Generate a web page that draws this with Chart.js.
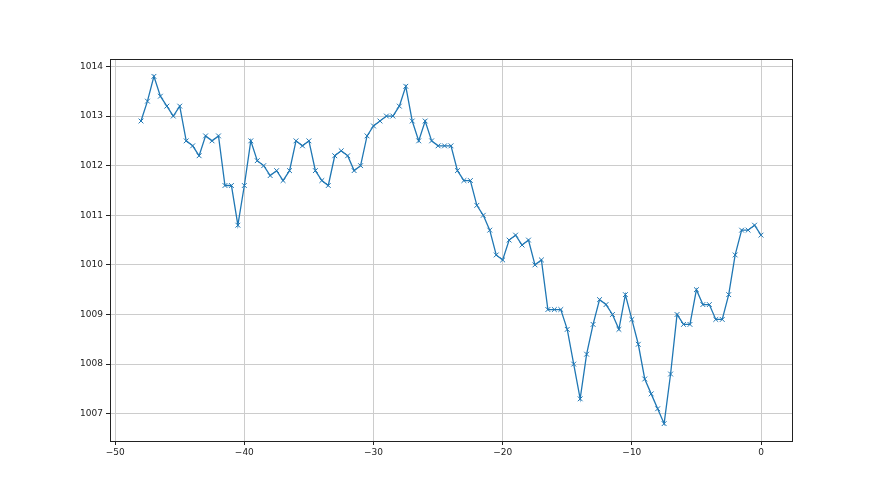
<!DOCTYPE html>
<html>
<head>
<meta charset="utf-8">
<script src="https://cdn.jsdelivr.net/npm/chart.js@4"></script>
<style>
  html, body { margin: 0; padding: 0; background: #fff; }
  #wrap { width: 880px; height: 495px; }
</style>
</head>
<body>
<div id="wrap"><canvas id="chart" width="880" height="495"></canvas></div>
<script>
// 시간 (-48 ~ 0, 30분 간격)
const hours = [];
for (let h = -48; h <= 0; h += 0.5) hours.push(h);

// 기압 값 (hPa)
const pressure = [
  1012.9, 1013.3, 1013.8, 1013.4, 1013.2, 1013.0, 1013.2, 1012.5, 1012.4, 1012.2,
  1012.6, 1012.5, 1012.6, 1011.6, 1011.6, 1010.8, 1011.6,
  1012.5, 1012.1, 1012.0, 1011.8, 1011.9, 1011.7, 1011.9, 1012.5, 1012.4, 1012.5,
  1011.9, 1011.7, 1011.6, 1012.2, 1012.3, 1012.2, 1011.9, 1012.0, 1012.6, 1012.8,
  1012.9, 1013.0, 1013.0, 1013.2, 1013.6, 1012.9, 1012.5, 1012.9, 1012.5, 1012.4,
  1012.4, 1012.4, 1011.9, 1011.7, 1011.7, 1011.2, 1011.0, 1010.7, 1010.2, 1010.1,
  1010.5, 1010.6, 1010.4, 1010.5, 1010.0, 1010.1, 1009.1, 1009.1, 1009.1, 1008.7,
  1008.0, 1007.3, 1008.2, 1008.8, 1009.3, 1009.2, 1009.0, 1008.7, 1009.4, 1008.9,
  1008.4, 1007.7, 1007.4, 1007.1, 1006.8, 1007.8, 1009.0, 1008.8, 1008.8, 1009.5,
  1009.2, 1009.2, 1008.9, 1008.9, 1009.4, 1010.2, 1010.7, 1010.7, 1010.8, 1010.6
];

// 눈금
const xTicks = [-50, -40, -30, -20, -10, 0];
const yTicks = [1007, 1008, 1009, 1010, 1011, 1012, 1013, 1014];

const points = hours.map((h, i) => ({ x: h, y: pressure[i] }));
const minus = v => String(v).replace('-', '\u2212');

// 축 테두리 (4면)
const frame = {
  id: 'frame',
  afterDraw(chart) {
    const { ctx, chartArea: a } = chart;
    ctx.save();
    ctx.strokeStyle = '#222';
    ctx.lineWidth = 1;
    ctx.strokeRect(Math.round(a.left) + 0.5, Math.round(a.top) + 0.5,
      Math.round(a.right - a.left), Math.round(a.bottom - a.top));
    ctx.restore();
  }
};

new Chart(document.getElementById('chart'), {
  type: 'line',
  data: {
    datasets: [{
      data: points,
      borderColor: '#1f77b4',
      backgroundColor: '#1f77b4',
      borderWidth: 1.3,
      pointStyle: 'crossRot',
      pointRadius: 3.4,
      pointBorderWidth: 1,
      pointHoverRadius: 3.4,
      tension: 0
    }]
  },
  plugins: [frame],
  options: {
    responsive: false,
    animation: false,
    events: [],
    layout: { padding: { left: 0, right: 88, top: 59, bottom: 0 } },
    plugins: { legend: { display: false }, tooltip: { enabled: false } },
    scales: {
      x: {
        type: 'linear',
        min: -50.4,
        max: 2.4,
        afterBuildTicks: s => { s.ticks = xTicks.map(v => ({ value: v })); },
        afterFit: s => { s.height = 54; },
        grid: { color: '#cccccc', tickColor: '#222', tickLength: 4, lineWidth: 1 },
        border: { display: false },
        ticks: { color: '#222', font: { family: 'DejaVu Sans', size: 9 }, padding: 2, callback: minus, maxRotation: 0 }
      },
      y: {
        min: 1006.45,
        max: 1014.15,
        afterBuildTicks: s => { s.ticks = yTicks.map(v => ({ value: v })); },
        afterFit: s => { s.width = 110; },
        grid: { color: '#cccccc', tickColor: '#222', tickLength: 4, lineWidth: 1 },
        border: { display: false },
        ticks: { color: '#222', font: { family: 'DejaVu Sans', size: 9 }, padding: 3, callback: v => String(v) }
      }
    }
  }
});
</script>
</body>
</html>
